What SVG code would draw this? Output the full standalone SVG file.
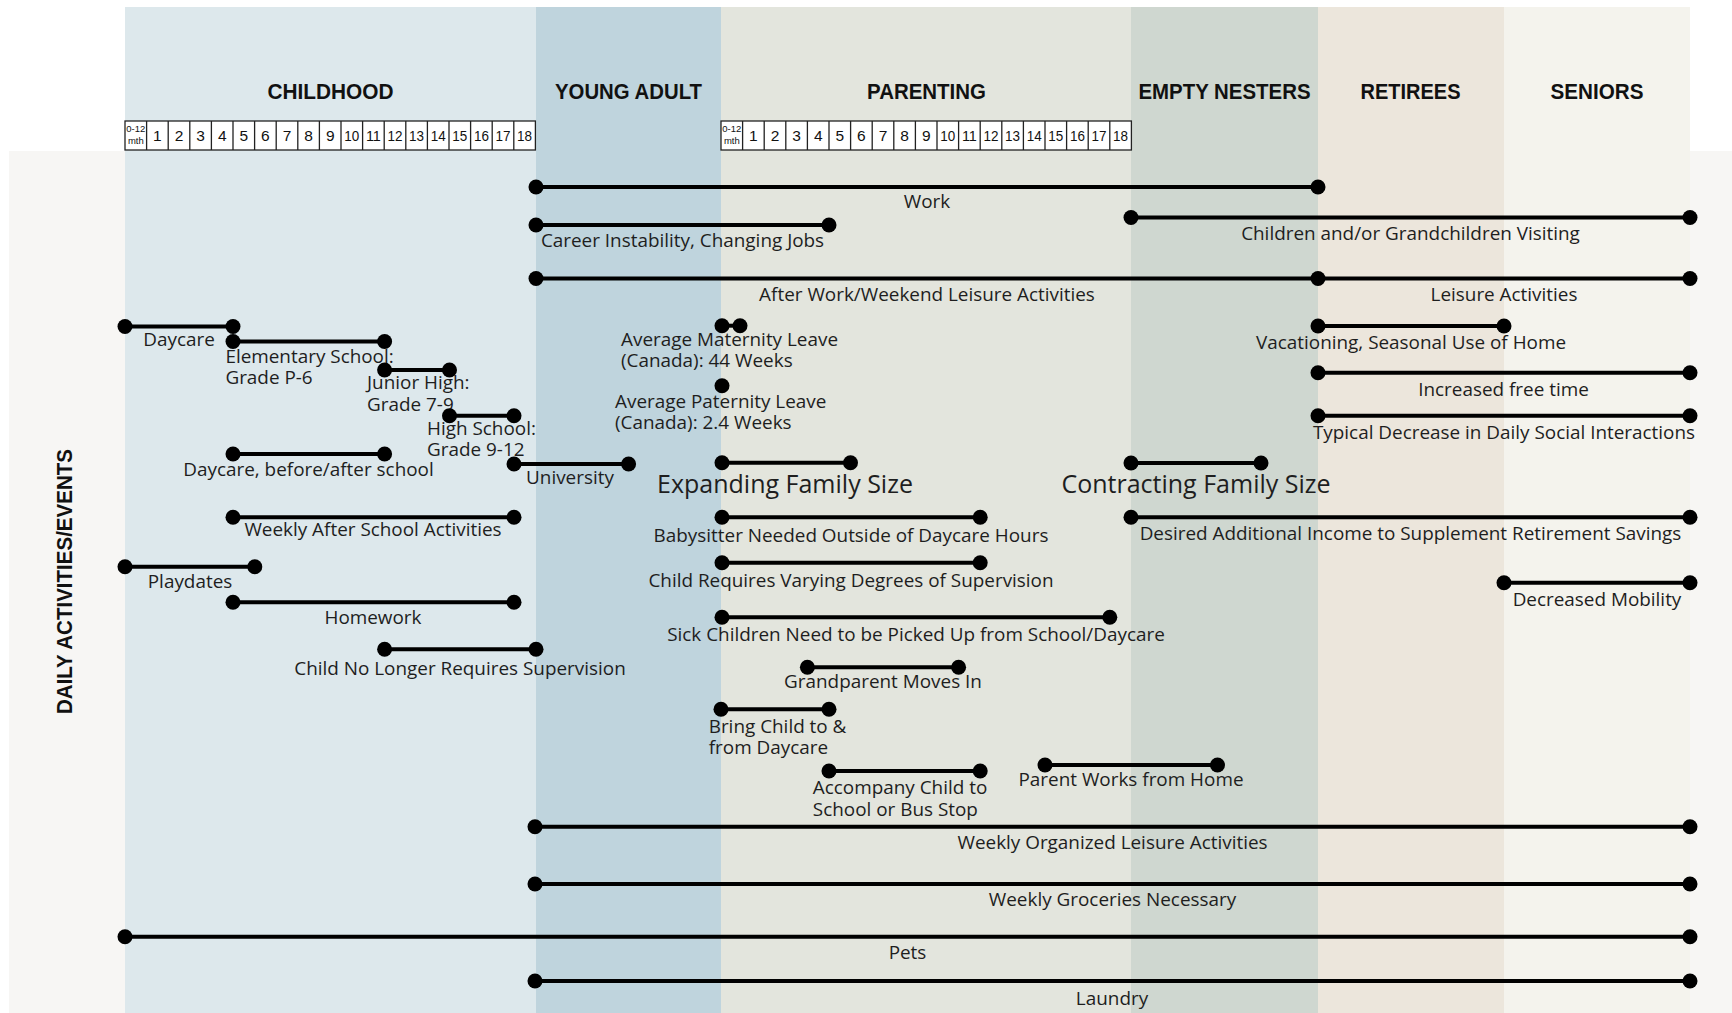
<svg xmlns="http://www.w3.org/2000/svg" width="1732" height="1013" viewBox="0 0 1732 1013">
<style>
.bar{stroke:#000;stroke-width:4;fill:none}
.dot{fill:#000}
.lbl{font-family:"Open Sans","Liberation Sans",sans-serif;font-size:18.9px;fill:#1e1e1e}
.big{font-family:"Open Sans","Liberation Sans",sans-serif;font-size:25px;fill:#1e1e1e;text-anchor:middle}
.c{text-anchor:middle}
.hdr{font-family:"Liberation Sans",Arial,sans-serif;font-weight:bold;font-size:22.5px;fill:#111;text-anchor:middle}
.cell{fill:#fff;stroke:#222;stroke-width:1.3}
.grid{stroke:#222;stroke-width:1.3;fill:none}
.num{font-family:"Liberation Sans",Arial,sans-serif;font-size:15.5px;fill:#111;text-anchor:middle}
.mth{font-family:"Liberation Sans",Arial,sans-serif;font-size:9.5px;fill:#111;text-anchor:middle}
</style>
<rect width="1732" height="1013" fill="#fff"/>
<rect x="9" y="151" width="1723" height="862" fill="#f7f6f4"/>
<g id="bands">
<rect x="125" y="7" width="411" height="1006" fill="#dde8ec"/>
<rect x="536" y="7" width="185" height="1006" fill="#bfd4dd"/>
<rect x="721" y="7" width="410" height="1006" fill="#e3e5dd"/>
<rect x="1131" y="7" width="187" height="1006" fill="#cfd7d0"/>
<rect x="1318" y="7" width="186" height="1006" fill="#ece6dc"/>
<rect x="1504" y="7" width="186" height="1006" fill="#f4f3ed"/>
</g>
<g id="headers">
<text class="hdr" x="330.5" y="99" textLength="126" lengthAdjust="spacingAndGlyphs">CHILDHOOD</text>
<text class="hdr" x="628.5" y="99" textLength="147" lengthAdjust="spacingAndGlyphs">YOUNG ADULT</text>
<text class="hdr" x="926.5" y="99" textLength="119" lengthAdjust="spacingAndGlyphs">PARENTING</text>
<text class="hdr" x="1224.5" y="99" textLength="172" lengthAdjust="spacingAndGlyphs">EMPTY NESTERS</text>
<text class="hdr" x="1410.5" y="99" textLength="100" lengthAdjust="spacingAndGlyphs">RETIREES</text>
<text class="hdr" x="1597" y="99" textLength="93" lengthAdjust="spacingAndGlyphs">SENIORS</text>
<text class="hdr" transform="translate(71.5,581.5) rotate(-90)" textLength="265" lengthAdjust="spacingAndGlyphs">DAILY ACTIVITIES/EVENTS</text>
</g>
<g id="timeline-childhood">
<rect class="cell" x="125" y="121" width="410.4" height="29"/>
<path class="grid" d="M146.6 121v29M168.2 121v29M189.8 121v29M211.4 121v29M233 121v29M254.6 121v29M276.2 121v29M297.8 121v29M319.4 121v29M341 121v29M362.6 121v29M384.2 121v29M405.8 121v29M427.4 121v29M449 121v29M470.6 121v29M492.2 121v29M513.8 121v29"/>
<text class="mth" x="135.8" y="132">0-12</text><text class="mth" x="135.8" y="144">mth</text>
<text class="num" x="157.4" y="141">1</text><text class="num" x="179" y="141">2</text><text class="num" x="200.6" y="141">3</text><text class="num" x="222.2" y="141">4</text><text class="num" x="243.8" y="141">5</text><text class="num" x="265.4" y="141">6</text><text class="num" x="287" y="141">7</text><text class="num" x="308.6" y="141">8</text><text class="num" x="330.2" y="141">9</text><text class="num" x="351.8" y="141" textLength="15" lengthAdjust="spacingAndGlyphs">10</text><text class="num" x="373.4" y="141" textLength="15" lengthAdjust="spacingAndGlyphs">11</text><text class="num" x="395" y="141" textLength="15" lengthAdjust="spacingAndGlyphs">12</text><text class="num" x="416.6" y="141" textLength="15" lengthAdjust="spacingAndGlyphs">13</text><text class="num" x="438.2" y="141" textLength="15" lengthAdjust="spacingAndGlyphs">14</text><text class="num" x="459.8" y="141" textLength="15" lengthAdjust="spacingAndGlyphs">15</text><text class="num" x="481.4" y="141" textLength="15" lengthAdjust="spacingAndGlyphs">16</text><text class="num" x="503" y="141" textLength="15" lengthAdjust="spacingAndGlyphs">17</text><text class="num" x="524.6" y="141" textLength="15" lengthAdjust="spacingAndGlyphs">18</text>
</g>
<g id="timeline-parenting">
<rect class="cell" x="721" y="121" width="410.4" height="29"/>
<path class="grid" d="M742.6 121v29M764.2 121v29M785.8 121v29M807.4 121v29M829 121v29M850.6 121v29M872.2 121v29M893.8 121v29M915.4 121v29M937 121v29M958.6 121v29M980.2 121v29M1001.8 121v29M1023.4 121v29M1045 121v29M1066.6 121v29M1088.2 121v29M1109.8 121v29"/>
<text class="mth" x="731.8" y="132">0-12</text><text class="mth" x="731.8" y="144">mth</text>
<text class="num" x="753.4" y="141">1</text><text class="num" x="775" y="141">2</text><text class="num" x="796.6" y="141">3</text><text class="num" x="818.2" y="141">4</text><text class="num" x="839.8" y="141">5</text><text class="num" x="861.4" y="141">6</text><text class="num" x="883" y="141">7</text><text class="num" x="904.6" y="141">8</text><text class="num" x="926.2" y="141">9</text><text class="num" x="947.8" y="141" textLength="15" lengthAdjust="spacingAndGlyphs">10</text><text class="num" x="969.4" y="141" textLength="15" lengthAdjust="spacingAndGlyphs">11</text><text class="num" x="991" y="141" textLength="15" lengthAdjust="spacingAndGlyphs">12</text><text class="num" x="1012.6" y="141" textLength="15" lengthAdjust="spacingAndGlyphs">13</text><text class="num" x="1034.2" y="141" textLength="15" lengthAdjust="spacingAndGlyphs">14</text><text class="num" x="1055.8" y="141" textLength="15" lengthAdjust="spacingAndGlyphs">15</text><text class="num" x="1077.4" y="141" textLength="15" lengthAdjust="spacingAndGlyphs">16</text><text class="num" x="1099" y="141" textLength="15" lengthAdjust="spacingAndGlyphs">17</text><text class="num" x="1120.6" y="141" textLength="15" lengthAdjust="spacingAndGlyphs">18</text>
</g>
<g id="activities">
<g id="work"><path class="bar" d="M536 187H1318"/><circle class="dot" cx="536" cy="187" r="7.5"/><circle class="dot" cx="1318" cy="187" r="7.5"/><text class="lbl c" x="927" y="208">Work</text></g>
<g id="career"><path class="bar" d="M536 225H829"/><circle class="dot" cx="536" cy="225" r="7.5"/><circle class="dot" cx="829" cy="225" r="7.5"/><text class="lbl c" x="682.5" y="247">Career Instability, Changing Jobs</text></g>
<g id="visiting"><path class="bar" d="M1131 217.5H1690"/><circle class="dot" cx="1131" cy="217.5" r="7.5"/><circle class="dot" cx="1690" cy="217.5" r="7.5"/><text class="lbl c" x="1410.5" y="240">Children and/or Grandchildren Visiting</text></g>
<g id="after-work"><path class="bar" d="M536 278.5H1318"/><circle class="dot" cx="536" cy="278.5" r="7.5"/><circle class="dot" cx="1318" cy="278.5" r="7.5"/><text class="lbl c" x="927" y="301">After Work/Weekend Leisure Activities</text></g>
<g id="leisure"><path class="bar" d="M1318 278.5H1690"/><circle class="dot" cx="1690" cy="278.5" r="7.5"/><text class="lbl c" x="1504" y="301">Leisure Activities</text></g>
<g id="daycare"><path class="bar" d="M125 326.5H233"/><circle class="dot" cx="125" cy="326.5" r="7.5"/><circle class="dot" cx="233" cy="326.5" r="7.5"/><text class="lbl c" x="179" y="346">Daycare</text></g>
<g id="elementary"><path class="bar" d="M233 341.5H384.6"/><circle class="dot" cx="233" cy="341.5" r="7.5"/><circle class="dot" cx="384.6" cy="341.5" r="7.5"/><text class="lbl" x="225.4" y="363.3">Elementary School:</text><text class="lbl" x="225.4" y="384.3">Grade P-6</text></g>
<g id="junior-high"><path class="bar" d="M384.6 370H449.5"/><circle class="dot" cx="384.6" cy="370" r="7.5"/><circle class="dot" cx="449.5" cy="370" r="7.5"/><text class="lbl" x="367" y="389">Junior High:</text><text class="lbl" x="367" y="410.5">Grade 7-9</text></g>
<g id="high-school"><path class="bar" d="M449.5 415.7H514"/><circle class="dot" cx="449.5" cy="415.7" r="7.5"/><circle class="dot" cx="514" cy="415.7" r="7.5"/><text class="lbl" x="427" y="434.5">High School:</text><text class="lbl" x="427" y="455.5">Grade 9-12</text></g>
<g id="daycare-school"><path class="bar" d="M233 454H384.6"/><circle class="dot" cx="233" cy="454" r="7.5"/><circle class="dot" cx="384.6" cy="454" r="7.5"/><text class="lbl c" x="308.5" y="475.5">Daycare, before/after school</text></g>
<g id="university"><path class="bar" d="M514 464H628.6"/><circle class="dot" cx="514" cy="464" r="7.5"/><circle class="dot" cx="628.6" cy="464" r="7.5"/><text class="lbl c" x="570" y="484">University</text></g>
<g id="after-school"><path class="bar" d="M233 517.3H514"/><circle class="dot" cx="233" cy="517.3" r="7.5"/><circle class="dot" cx="514" cy="517.3" r="7.5"/><text class="lbl c" x="373" y="535.5">Weekly After School Activities</text></g>
<g id="playdates"><path class="bar" d="M125 566.7H254.8"/><circle class="dot" cx="125" cy="566.7" r="7.5"/><circle class="dot" cx="254.8" cy="566.7" r="7.5"/><text class="lbl c" x="190" y="588">Playdates</text></g>
<g id="homework"><path class="bar" d="M233 602.3H514"/><circle class="dot" cx="233" cy="602.3" r="7.5"/><circle class="dot" cx="514" cy="602.3" r="7.5"/><text class="lbl c" x="373" y="623.5">Homework</text></g>
<g id="no-supervision"><path class="bar" d="M384.6 649.3H536"/><circle class="dot" cx="384.6" cy="649.3" r="7.5"/><circle class="dot" cx="536" cy="649.3" r="7.5"/><text class="lbl c" x="460" y="674.5">Child No Longer Requires Supervision</text></g>
<g id="maternity"><path class="bar" d="M722 325.7H740"/><circle class="dot" cx="722" cy="325.7" r="7.5"/><circle class="dot" cx="740" cy="325.7" r="7.5"/><text class="lbl" x="621" y="345.5">Average Maternity Leave</text><text class="lbl" x="621" y="366.5">(Canada): 44 Weeks</text></g>
<g id="paternity"><circle class="dot" cx="722" cy="385.7" r="7.5"/><text class="lbl" x="615" y="407.5">Average Paternity Leave</text><text class="lbl" x="615" y="429">(Canada): 2.4 Weeks</text></g>
<g id="expanding"><path class="bar" d="M722 462.7H850.5"/><circle class="dot" cx="722" cy="462.7" r="7.5"/><circle class="dot" cx="850.5" cy="462.7" r="7.5"/><text class="big" x="785" y="493">Expanding Family Size</text></g>
<g id="contracting"><path class="bar" d="M1131 463H1261"/><circle class="dot" cx="1131" cy="463" r="7.5"/><circle class="dot" cx="1261" cy="463" r="7.5"/><text class="big" x="1196" y="493">Contracting Family Size</text></g>
<g id="babysitter"><path class="bar" d="M722 517.3H980.2"/><circle class="dot" cx="722" cy="517.3" r="7.5"/><circle class="dot" cx="980.2" cy="517.3" r="7.5"/><text class="lbl c" x="851" y="541.5">Babysitter Needed Outside of Daycare Hours</text></g>
<g id="supervision"><path class="bar" d="M722 562.7H980.2"/><circle class="dot" cx="722" cy="562.7" r="7.5"/><circle class="dot" cx="980.2" cy="562.7" r="7.5"/><text class="lbl c" x="851" y="587">Child Requires Varying Degrees of Supervision</text></g>
<g id="sick"><path class="bar" d="M722 617.3H1109.8"/><circle class="dot" cx="722" cy="617.3" r="7.5"/><circle class="dot" cx="1109.8" cy="617.3" r="7.5"/><text class="lbl c" x="916" y="641">Sick Children Need to be Picked Up from School/Daycare</text></g>
<g id="grandparent"><path class="bar" d="M807.4 667.3H958.6"/><circle class="dot" cx="807.4" cy="667.3" r="7.5"/><circle class="dot" cx="958.6" cy="667.3" r="7.5"/><text class="lbl c" x="883" y="688">Grandparent Moves In</text></g>
<g id="bring-child"><path class="bar" d="M721 709.3H829"/><circle class="dot" cx="721" cy="709.3" r="7.5"/><circle class="dot" cx="829" cy="709.3" r="7.5"/><text class="lbl" x="708.7" y="732.5">Bring Child to &amp;</text><text class="lbl" x="708.7" y="753.5">from Daycare</text></g>
<g id="accompany"><path class="bar" d="M829 771H980.2"/><circle class="dot" cx="829" cy="771" r="7.5"/><circle class="dot" cx="980.2" cy="771" r="7.5"/><text class="lbl" x="812.8" y="794">Accompany Child to</text><text class="lbl" x="812.8" y="815.7">School or Bus Stop</text></g>
<g id="works-home"><path class="bar" d="M1045 765H1217.5"/><circle class="dot" cx="1045" cy="765" r="7.5"/><circle class="dot" cx="1217.5" cy="765" r="7.5"/><text class="lbl c" x="1131" y="786">Parent Works from Home</text></g>
<g id="vacationing"><path class="bar" d="M1318 326H1504"/><circle class="dot" cx="1318" cy="326" r="7.5"/><circle class="dot" cx="1504" cy="326" r="7.5"/><text class="lbl c" x="1411" y="349.3">Vacationing, Seasonal Use of Home</text></g>
<g id="free-time"><path class="bar" d="M1318 372.7H1690"/><circle class="dot" cx="1318" cy="372.7" r="7.5"/><circle class="dot" cx="1690" cy="372.7" r="7.5"/><text class="lbl c" x="1503.5" y="395.7">Increased free time</text></g>
<g id="social"><path class="bar" d="M1318 415.7H1690"/><circle class="dot" cx="1318" cy="415.7" r="7.5"/><circle class="dot" cx="1690" cy="415.7" r="7.5"/><text class="lbl c" x="1504" y="439.3">Typical Decrease in Daily Social Interactions</text></g>
<g id="income"><path class="bar" d="M1131 517.3H1690"/><circle class="dot" cx="1131" cy="517.3" r="7.5"/><circle class="dot" cx="1690" cy="517.3" r="7.5"/><text class="lbl c" x="1410.5" y="540">Desired Additional Income to Supplement Retirement Savings</text></g>
<g id="mobility"><path class="bar" d="M1504 582.7H1690"/><circle class="dot" cx="1504" cy="582.7" r="7.5"/><circle class="dot" cx="1690" cy="582.7" r="7.5"/><text class="lbl c" x="1597" y="605.7">Decreased Mobility</text></g>
<g id="organized"><path class="bar" d="M535 826.7H1690"/><circle class="dot" cx="535" cy="826.7" r="7.5"/><circle class="dot" cx="1690" cy="826.7" r="7.5"/><text class="lbl c" x="1112.5" y="849">Weekly Organized Leisure Activities</text></g>
<g id="groceries"><path class="bar" d="M535 884H1690"/><circle class="dot" cx="535" cy="884" r="7.5"/><circle class="dot" cx="1690" cy="884" r="7.5"/><text class="lbl c" x="1112.5" y="906">Weekly Groceries Necessary</text></g>
<g id="pets"><path class="bar" d="M125 936.7H1690" stroke-width="3.5"/><circle class="dot" cx="125" cy="936.7" r="7.5"/><circle class="dot" cx="1690" cy="936.7" r="7.5"/><text class="lbl c" x="907.5" y="959">Pets</text></g>
<g id="laundry"><path class="bar" d="M535 981H1690"/><circle class="dot" cx="535" cy="981" r="7.5"/><circle class="dot" cx="1690" cy="981" r="7.5"/><text class="lbl c" x="1112" y="1005">Laundry</text></g>
</g>
</svg>
